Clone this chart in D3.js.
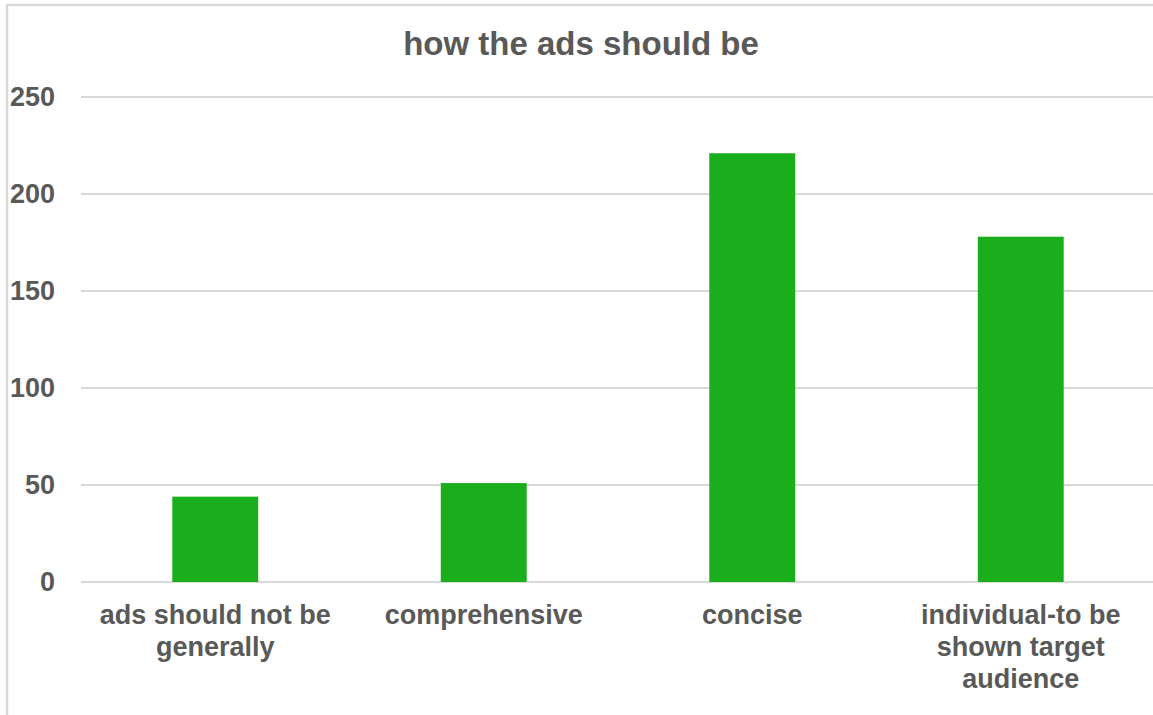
<!DOCTYPE html>
<html>
<head>
<meta charset="utf-8">
<script src="https://cdn.jsdelivr.net/npm/d3@7"></script>
<style>
  body { margin: 0; background: #fff; }
  svg { display: block; font-family: "Liberation Sans", Arial, sans-serif; }
</style>
</head>
<body>
<svg id="chart"></svg>
<script>
// dati
var categories = ["ads should not be generally", "comprehensive", "concise", "individual-to be shown target audience"];
var values = [44, 51, 221, 178];
var yTicks = [0, 50, 100, 150, 200, 250];
var title = "how the ads should be";

var w = 1153, h = 715;
var margin = { top: 97, right: -2, bottom: 133, left: 81 };
var innerW = w - margin.left - margin.right;
var innerH = h - margin.top - margin.bottom;

var svg = d3.select("#chart").attr("width", w).attr("height", h);

// bordo del riquadro (tagliato a destra e in basso)
svg.append("rect")
  .attr("x", 7).attr("y", 5)
  .attr("width", w + 20).attr("height", h + 20)
  .attr("fill", "#fff")
  .attr("stroke", "#d9d9d9")
  .attr("stroke-width", 2.5);

var x = d3.scaleBand().domain(categories).range([0, innerW]).paddingInner(0.68).paddingOuter(0.34);
var y = d3.scaleLinear().domain([0, 250]).range([innerH, 0]);

var g = svg.append("g").attr("transform", "translate(" + margin.left + "," + margin.top + ")");

// griglia orizzontale
g.selectAll(".grid")
  .data(yTicks)
  .enter().append("line")
  .attr("x1", 0).attr("x2", innerW)
  .attr("y1", function(d) { return y(d); })
  .attr("y2", function(d) { return y(d); })
  .attr("stroke", "#d9d9d9")
  .attr("stroke-width", 2);

// asse y (solo etichette)
var yAxis = g.append("g")
  .call(d3.axisLeft(y).tickValues(yTicks).tickSize(0).tickPadding(26));
yAxis.select(".domain").remove();
yAxis.selectAll("text")
  .style("font-family", "'Liberation Sans', Arial, sans-serif")
  .style("font-size", "27px")
  .style("font-weight", "bold")
  .attr("fill", "#595959");

// barre
g.selectAll(".bar")
  .data(values)
  .enter().append("rect")
  .attr("class", "bar")
  .attr("x", function(d, i) { return x(categories[i]); })
  .attr("width", x.bandwidth())
  .attr("y", function(d) { return y(d); })
  .attr("height", function(d) { return innerH - y(d); })
  .attr("fill", "#1aad1c");

// asse x con etichette a capo
var xAxis = g.append("g")
  .attr("transform", "translate(0," + innerH + ")")
  .call(d3.axisBottom(x).tickSize(0).tickPadding(0));
xAxis.select(".domain").remove();
xAxis.selectAll("text")
  .style("font-family", "'Liberation Sans', Arial, sans-serif")
  .style("font-size", "27px")
  .style("font-weight", "bold")
  .attr("fill", "#595959")
  .call(wrap, 250);

function wrap(testi, larghezza) {
  testi.each(function() {
    var testo = d3.select(this);
    var parole = testo.text().split(/\s+/);
    testo.text(null);
    var riga = [];
    var n = 0;
    var tspan = testo.append("tspan").attr("x", 0).attr("y", 42);
    parole.forEach(function(p) {
      riga.push(p);
      tspan.text(riga.join(" "));
      if (tspan.node().getComputedTextLength() > larghezza && riga.length > 1) {
        riga.pop();
        tspan.text(riga.join(" "));
        riga = [p];
        n++;
        tspan = testo.append("tspan").attr("x", 0).attr("y", 42 + n * 32).text(p);
      }
    });
    testo.attr("dy", null);
  });
}

// titolo
svg.append("text")
  .attr("x", 581).attr("y", 55)
  .attr("text-anchor", "middle")
  .style("font-size", "33px")
  .style("font-weight", "bold")
  .attr("fill", "#595959")
  .text(title);
</script>
</body>
</html>
